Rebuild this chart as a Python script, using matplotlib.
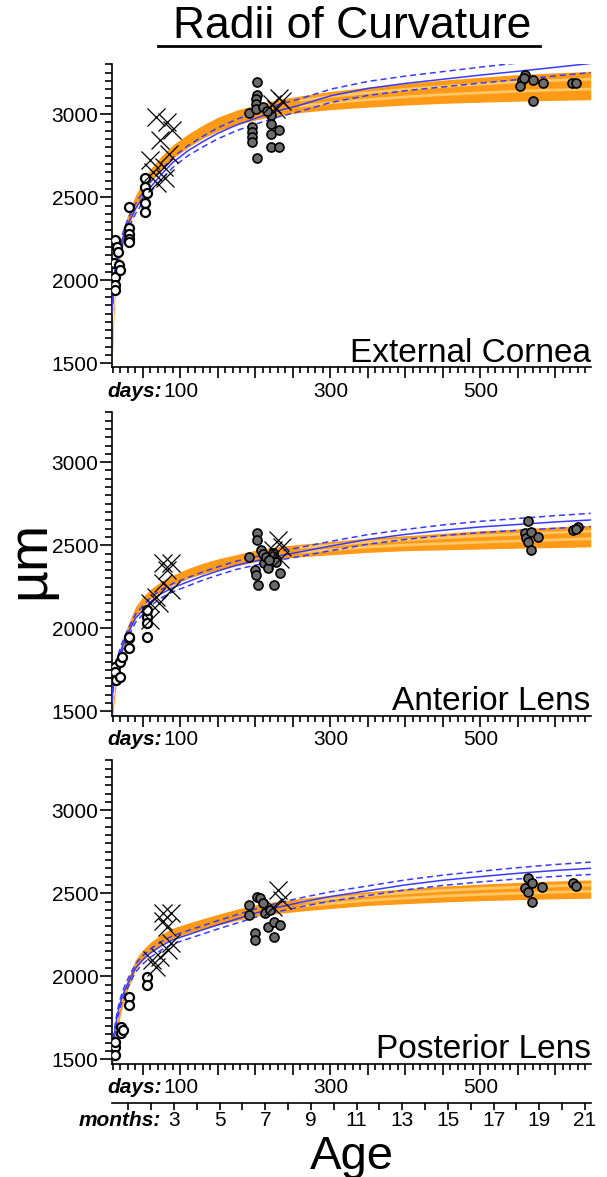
import numpy as np
import matplotlib
matplotlib.use("Agg")
import matplotlib.pyplot as plt
from matplotlib.lines import Line2D
from matplotlib.ticker import MultipleLocator, FixedLocator, FixedFormatter, NullFormatter
import matplotlib.transforms as mtransforms

plt.rcParams['font.family'] = ['Liberation Sans', 'DejaVu Sans']

# ---------------------------------------------------------------- data
# ages (days) at which the fitted growth curves are tabulated
fit_days = [9, 11, 13, 16, 20, 25, 30, 40, 50, 60, 75, 90, 110, 130, 150,
            175, 200, 230, 260, 300, 350, 400, 450, 500, 550, 600, 647]

# External cornea: orange model band (centre, half width) and blue model (centre, spread)
cornea_mid = [1560, 1800, 1960, 2080, 2190, 2280, 2360, 2470, 2560, 2630, 2710, 2775, 2840, 2895, 2940,
              2980, 3010, 3040, 3060, 3082, 3102, 3120, 3135, 3147, 3158, 3166, 3172]
cornea_half = [60, 45, 40, 40, 40, 40, 40, 40, 40, 40, 40, 40, 40, 40, 42,
               44, 45, 48, 50, 55, 60, 65, 70, 75, 80, 83, 85]
cornea_blue = [1830, 1960, 2050, 2130, 2210, 2280, 2340, 2430, 2500, 2560, 2640, 2710, 2780, 2835, 2885,
               2935, 2975, 3020, 3055, 3110, 3155, 3185, 3210, 3235, 3258, 3282, 3305]
cornea_spread = [30, 30, 30, 30, 30, 30, 30, 30, 30, 30, 30, 30, 30, 32, 33,
                 34, 35, 37, 38, 40, 42, 44, 46, 48, 50, 52, 55]

# Anterior lens
ant_mid = [1470, 1560, 1640, 1760, 1850, 1930, 1990, 2100, 2160, 2205, 2255, 2290, 2330, 2360, 2385,
           2410, 2435, 2455, 2468, 2482, 2500, 2512, 2522, 2532, 2540, 2548, 2555]
ant_half = [30, 30, 30, 30, 30, 30, 30, 30, 30, 30, 30, 30, 30, 32, 33,
            34, 35, 37, 38, 40, 43, 45, 50, 55, 58, 62, 65]
ant_blue = [1580, 1680, 1740, 1800, 1860, 1920, 1970, 2060, 2110, 2160, 2210, 2245, 2280, 2315, 2345,
            2380, 2405, 2435, 2460, 2495, 2535, 2565, 2590, 2610, 2625, 2640, 2652]
ant_spread = [25, 25, 25, 25, 25, 25, 25, 25, 25, 25, 25, 25, 25, 25, 25,
              25, 25, 26, 27, 28, 29, 30, 32, 34, 36, 38, 40]

# Posterior lens
post_mid = [1470, 1540, 1616, 1710, 1800, 1890, 1955, 2070, 2130, 2175, 2225, 2260, 2290, 2315, 2340,
            2370, 2395, 2415, 2430, 2448, 2468, 2482, 2495, 2505, 2513, 2520, 2525]
post_half = [30, 30, 30, 30, 30, 30, 30, 30, 30, 30, 30, 30, 30, 32, 33,
             34, 35, 37, 38, 40, 42, 45, 48, 50, 52, 54, 55]
post_blue = [1540, 1620, 1690, 1770, 1845, 1910, 1960, 2050, 2100, 2140, 2185, 2220, 2250, 2280, 2310,
             2345, 2380, 2415, 2445, 2480, 2515, 2550, 2578, 2600, 2620, 2637, 2650]
post_spread = [25, 25, 25, 25, 25, 25, 25, 25, 25, 25, 25, 25, 25, 25, 25,
               25, 25, 26, 27, 28, 29, 30, 31, 32, 34, 36, 37]

# measured eyes: young (open circles), crosses, older (grey circles)
cornea_open_day = [13, 15, 17, 11, 18, 13, 13, 13, 20, 31, 31, 31, 31, 31, 53, 53, 53, 53, 55]
cornea_open_val = [2241, 2200, 2172, 2103, 2092, 2022, 1970, 1940, 2062, 2443, 2313, 2280, 2250, 2230,
                   2465, 2413, 2614, 2563, 2523]
cornea_x_day = [67, 82, 73, 89, 60, 78, 80, 69, 64, 85, 222, 231, 236, 228]
cornea_x_val = [2985, 2955, 2845, 2905, 2724, 2684, 2614, 2584, 2650, 2760, 3060, 3098, 3080, 3030]
cornea_grey_day = [192, 202, 202, 201, 201, 201, 196, 196, 196, 196, 202, 221, 221, 221, 221, 232, 232,
                   210, 215, 560, 555, 553, 570, 584, 570, 622, 628, 558]
cornea_grey_val = [3007, 3196, 3115, 3090, 3060, 3030, 2920, 2890, 2860, 2830, 2734, 2994, 2940, 2880, 2804,
                   2905, 2804, 3040, 3020, 3236, 3206, 3170, 3206, 3190, 3078, 3190, 3190, 3220]

ant_open_day = [13, 13, 14, 20, 20, 22, 31, 31, 32, 55, 55, 55, 55]
ant_open_val = [1768, 1738, 1688, 1708, 1799, 1829, 1939, 1879, 1949, 2070, 2030, 1949, 2110]
ant_x_day = [77, 88, 82, 67, 72, 60, 88, 60, 77, 230, 224, 236, 233]
ant_x_val = [2391, 2391, 2351, 2190, 2150, 2050, 2230, 2150, 2271, 2531, 2470, 2490, 2420]
ant_grey_day = [192, 202, 202, 199, 201, 204, 223, 225, 233, 212, 217, 228, 207, 210, 214, 218,
                563, 559, 561, 564, 567, 567, 577, 624, 630, 627]
ant_grey_val = [2431, 2572, 2531, 2351, 2320, 2260, 2451, 2260, 2331, 2391, 2360, 2400, 2470, 2450, 2430, 2410,
                2648, 2572, 2543, 2521, 2581, 2471, 2551, 2591, 2611, 2600]

post_open_day = [13, 13, 13, 21, 21, 23, 31, 31, 55, 55]
post_open_val = [1576, 1526, 1606, 1696, 1656, 1676, 1877, 1827, 1997, 1947]
post_x_day = [77, 88, 82, 77, 62, 73, 83, 67, 88, 230, 236, 224]
post_x_val = [2379, 2379, 2298, 2330, 2098, 2118, 2158, 2057, 2200, 2520, 2460, 2420]
post_grey_day = [192, 192, 200, 200, 202, 206, 213, 217, 225, 225, 233, 210, 220,
                 563, 559, 563, 569, 569, 582, 624, 627]
post_grey_val = [2429, 2369, 2259, 2218, 2479, 2470, 2379, 2298, 2238, 2329, 2309, 2440, 2400,
                 2590, 2530, 2509, 2560, 2449, 2540, 2560, 2545]

panel_names = ["External Cornea", "Anterior Lens", "Posterior Lens"]
day_labels = ["100", "300", "500"]
month_labels = ["3", "5", "7", "9", "11", "13", "15", "17", "19", "21"]
y_labels = ["1500", "2000", "2500", "3000"]

# ---------------------------------------------------------------- layout
W, H = 607, 1177
fig = plt.figure(figsize=(W / 100, H / 100), dpi=100)

X_LEFT, X_RIGHT = 111.7, 590.7
DAY_MIN, DAY_MAX = 8.3, 647
Y_MIN, Y_MAX = 1475, 3300
PANEL_TOPS = [64.3, 412.3, 760.3]
PANEL_H = 303.2
DAYS_PER_MONTH = 30.44
STREAK_FROM = 18          # index in fit_days where the lighter streaks start

ORANGE = '#ff9a17'
LIGHT = '#ffc766'
BLUE = '#3a3aff'
GREY = '#6c6c6c'
TICK_FS = 15


def add_panel(top):
    return fig.add_axes([X_LEFT / W, 1 - (top + PANEL_H) / H,
                         (X_RIGHT - X_LEFT) / W, PANEL_H / H])


panels = [
    (cornea_mid, cornea_half, cornea_blue, cornea_spread,
     cornea_open_day, cornea_open_val, cornea_x_day, cornea_x_val, cornea_grey_day, cornea_grey_val),
    (ant_mid, ant_half, ant_blue, ant_spread,
     ant_open_day, ant_open_val, ant_x_day, ant_x_val, ant_grey_day, ant_grey_val),
    (post_mid, post_half, post_blue, post_spread,
     post_open_day, post_open_val, post_x_day, post_x_val, post_grey_day, post_grey_val),
]

for k, (mid, half, blue, spread, od, ov, xd, xv, gd, gv) in enumerate(panels):
    ax = add_panel(PANEL_TOPS[k])
    mid = np.array(mid, float)
    half = np.array(half, float)
    blue = np.array(blue, float)
    spread = np.array(spread, float)
    fd = np.array(fit_days, float)

    # orange model band with lighter inner streaks on the flat part
    ax.fill_between(fd, mid - half, mid + half, color=ORANGE, lw=0, zorder=2)
    s = STREAK_FROM
    ax.plot(fd[s:], (mid + 0.45 * half)[s:], color=LIGHT, lw=2.0, zorder=2.1)
    ax.plot(fd[s:], (mid - 0.25 * half)[s:], color=LIGHT, lw=2.0, zorder=2.1)

    # blue model: centre line and dashed limits
    ax.plot(fd, blue, color=BLUE, lw=1.1, zorder=3)
    ax.plot(fd, blue + spread, color=BLUE, lw=1.1, ls=(0, (4, 2.5)), zorder=3)
    ax.plot(fd, blue - spread, color=BLUE, lw=1.1, ls=(0, (4, 2.5)), zorder=3)

    # measurements
    ax.plot(od, ov, 'o', ms=6.5, mfc='white', mec='black', mew=1.6, zorder=4)
    ax.plot(xd, xv, 'x', ms=13, mec='black', mew=0.9, zorder=5)
    ax.plot(gd, gv, 'o', ms=6.5, mfc=GREY, mec='black', mew=1.2, zorder=4)

    ax.set_xlim(DAY_MIN, DAY_MAX)
    ax.set_ylim(Y_MIN, Y_MAX)
    for sp in ('top', 'right'):
        ax.spines[sp].set_visible(False)
    ax.spines['left'].set_linewidth(1.2)
    ax.spines['bottom'].set_linewidth(1.2)

    ax.xaxis.set_major_locator(MultipleLocator(50))
    ax.xaxis.set_minor_locator(MultipleLocator(10))
    ax.xaxis.set_major_formatter(NullFormatter())
    ax.tick_params(axis='x', which='major', length=8, width=1.2, direction='out')
    ax.tick_params(axis='x', which='minor', length=4, width=1.2, direction='out')
    # day labels at 100 / 300 / 500
    x_tr = mtransforms.blended_transform_factory(ax.transData, ax.transAxes)
    for lab in day_labels:
        ax.annotate(lab, xy=(float(lab), 0), xycoords=x_tr, xytext=(0, -10.5),
                    textcoords='offset points', ha='center', va='top', fontsize=TICK_FS)
    ax.annotate('days:', xy=(76, 0), xycoords=x_tr, xytext=(0, -10.5),
                textcoords='offset points', ha='right', va='top', fontsize=TICK_FS,
                fontweight='bold', fontstyle='italic')

    ax.yaxis.set_major_locator(FixedLocator([1500, 2000, 2500, 3000]))
    ax.yaxis.set_major_formatter(FixedFormatter(y_labels))
    ax.yaxis.set_minor_locator(MultipleLocator(50))
    ax.tick_params(axis='y', which='major', length=8.5, width=1.2, direction='out', pad=1.0,
                   labelsize=TICK_FS)
    ax.tick_params(axis='y', which='minor', length=5, width=1.2, direction='out')

    # panel name, bottom right
    y_tr = mtransforms.blended_transform_factory(ax.transAxes, ax.transData)
    ax.text(1.0, 1508, panel_names[k], transform=y_tr, ha='right', va='baseline',
            fontsize=24, zorder=6)

# months axis under the bottom panel
MONTH_Y = 1103
axm = fig.add_axes([X_LEFT / W, 1 - MONTH_Y / H, (X_RIGHT - X_LEFT) / W, 0.001])
axm.set_xlim(DAY_MIN / DAYS_PER_MONTH, DAY_MAX / DAYS_PER_MONTH)
for sp in ('top', 'right', 'left'):
    axm.spines[sp].set_visible(False)
axm.spines['bottom'].set_linewidth(1.2)
axm.set_yticks([])
axm.xaxis.set_major_locator(FixedLocator(list(range(1, 22))))
axm.xaxis.set_major_formatter(NullFormatter())
axm.tick_params(axis='x', length=5, width=1.2, direction='out')
mtr = mtransforms.blended_transform_factory(axm.transData, axm.transAxes)
for lab in month_labels:
    axm.annotate(lab, xy=(float(lab), 0), xycoords=mtr, xytext=(0, -6),
                 textcoords='offset points', ha='center', va='top', fontsize=TICK_FS)
axm.annotate('months:', xy=(2.45, 0), xycoords=mtr, xytext=(0, -6),
             textcoords='offset points', ha='right', va='top', fontsize=TICK_FS,
             fontweight='bold', fontstyle='italic')

# titles
fig.text(352 / W, 1 - 27 / H, 'Radii of Curvature', ha='center', va='center', fontsize=32)
fig.add_artist(Line2D([158 / W, 540 / W], [1 - 46 / H, 1 - 46 / H], color='black', lw=2,
                      transform=fig.transFigure))
fig.text(30 / W, 1 - 560 / H, 'µm', ha='center', va='center', rotation=90, fontsize=40)
fig.text(352 / W, 1 - 1157 / H, 'Age', ha='center', va='center', fontsize=34)

fig.savefig('out.png', dpi=100)
